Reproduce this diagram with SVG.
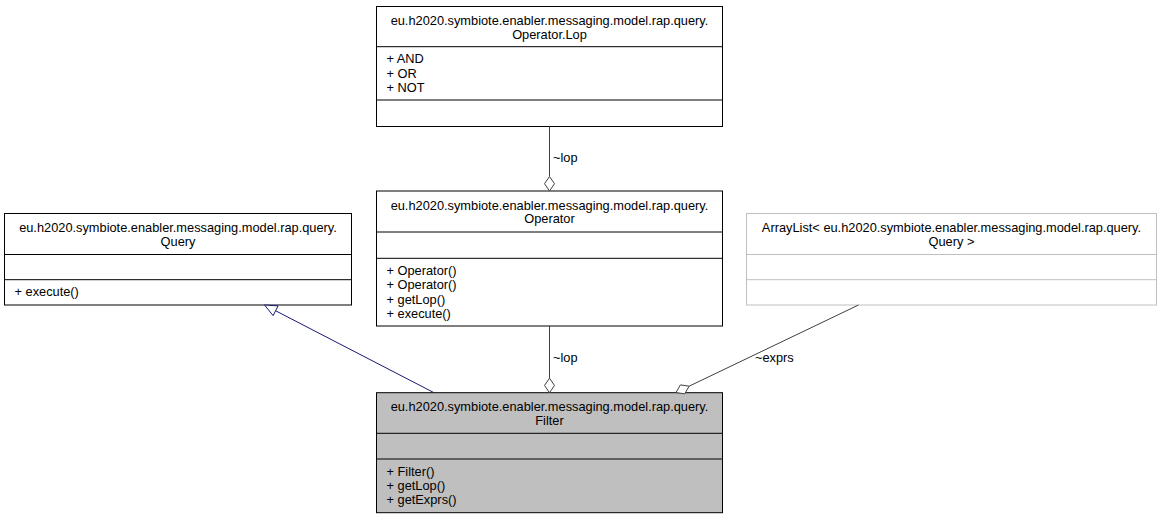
<svg xmlns="http://www.w3.org/2000/svg" width="1163" height="520" viewBox="0 0 1163 520">
  <style>
    .box { fill: #ffffff; stroke: #000000; stroke-width: 1; }
    .box.ext { stroke: #bfbfbf; }
    .box.cur { fill: #bfbfbf; }
    .sep { stroke: #000000; stroke-width: 1; }
    .sep.ext { stroke: #bfbfbf; }
    text { font-family: "Liberation Sans", Arial, Helvetica, sans-serif; font-size: 12.8px; fill: #000000; }
    .c { text-anchor: middle; }
    .agg { stroke: #404040; stroke-width: 1; fill: none; }
    .agghead { stroke: #404040; stroke-width: 1; fill: #ffffff; }
    .inh { stroke: #191970; stroke-width: 1; fill: none; }
    .inhhead { stroke: #191970; stroke-width: 1; fill: #ffffff; }
  </style>
  <rect width="1163" height="520" fill="#ffffff"/>

  <!-- Operator.Lop enum -->
  <g id="node-lop">
    <rect class="box" x="376.5" y="6.5" width="346" height="120"/>
    <line class="sep" x1="376.5" y1="46.7" x2="722.5" y2="46.7"/>
    <line class="sep" x1="376.5" y1="100" x2="722.5" y2="100"/>
    <text class="c" x="549.5" y="25">eu.h2020.symbiote.enabler.messaging.model.rap.query.</text>
    <text class="c" x="549.5" y="38.5">Operator.Lop</text>
    <text x="386.5" y="63.2">+ AND</text>
    <text x="386.5" y="77.6">+ OR</text>
    <text x="386.5" y="92">+ NOT</text>
  </g>

  <!-- Query -->
  <g id="node-query">
    <rect class="box" x="4.5" y="213.5" width="347" height="91.5"/>
    <line class="sep" x1="4.5" y1="254.5" x2="351.5" y2="254.5"/>
    <line class="sep" x1="4.5" y1="279.7" x2="351.5" y2="279.7"/>
    <text class="c" x="178" y="232">eu.h2020.symbiote.enabler.messaging.model.rap.query.</text>
    <text class="c" x="178" y="245.5">Query</text>
    <text x="14.5" y="296.2">+ execute()</text>
  </g>

  <!-- Operator -->
  <g id="node-operator">
    <rect class="box" x="376.5" y="191" width="346" height="135"/>
    <line class="sep" x1="376.5" y1="232" x2="722.5" y2="232"/>
    <line class="sep" x1="376.5" y1="258.3" x2="722.5" y2="258.3"/>
    <text class="c" x="549.5" y="209.5">eu.h2020.symbiote.enabler.messaging.model.rap.query.</text>
    <text class="c" x="549.5" y="223">Operator</text>
    <text x="386.5" y="274.8">+ Operator()</text>
    <text x="386.5" y="289.2">+ Operator()</text>
    <text x="386.5" y="303.6">+ getLop()</text>
    <text x="386.5" y="318">+ execute()</text>
  </g>

  <!-- ArrayList of Query -->
  <g id="node-arraylist">
    <rect class="box ext" x="746.5" y="213.5" width="410" height="91.5"/>
    <line class="sep ext" x1="746.5" y1="254.5" x2="1156.5" y2="254.5"/>
    <line class="sep ext" x1="746.5" y1="279.7" x2="1156.5" y2="279.7"/>
    <text class="c" x="951.5" y="232">ArrayList&lt; eu.h2020.symbiote.enabler.messaging.model.rap.query.</text>
    <text class="c" x="951.5" y="245.5">Query &gt;</text>
  </g>

  <!-- Filter -->
  <g id="node-filter">
    <rect class="box cur" x="376.5" y="392.7" width="346" height="120"/>
    <line class="sep" x1="376.5" y1="433.3" x2="722.5" y2="433.3"/>
    <line class="sep" x1="376.5" y1="459" x2="722.5" y2="459"/>
    <text class="c" x="549.5" y="411.2">eu.h2020.symbiote.enabler.messaging.model.rap.query.</text>
    <text class="c" x="549.5" y="424.7">Filter</text>
    <text x="386.5" y="475.5">+ Filter()</text>
    <text x="386.5" y="489.9">+ getLop()</text>
    <text x="386.5" y="504.3">+ getExprs()</text>
  </g>

  <!-- relations -->
  <g id="connectors">
    <!-- Operator.lop -->
    <line class="agg" x1="549.5" y1="126.5" x2="549.5" y2="176.5"/>
    <polygon class="agghead" points="549.5,191 554.5,183.75 549.5,176.5 544.5,183.75"/>
    <text x="553" y="162">~lop</text>

    <!-- Filter.lop -->
    <line class="agg" x1="549.5" y1="326" x2="549.5" y2="378.2"/>
    <polygon class="agghead" points="549.5,392.7 554.5,385.45 549.5,378.2 544.5,385.45"/>
    <text x="553" y="362">~lop</text>

    <!-- Filter.exprs -->
    <line class="agg" x1="858.5" y1="305" x2="689.1" y2="386.2"/>
    <polygon class="agghead" points="676,392.5 684.7,393.9 689.1,386.2 680.4,384.9"/>
    <text x="755" y="362">~exprs</text>

    <!-- Filter extends Query -->
    <line class="inh" x1="434" y1="392.7" x2="275.6" y2="310.75"/>
    <polygon class="inhhead" points="264.5,305 278.1,305.9 273.1,315.6"/>
  </g>
</svg>
